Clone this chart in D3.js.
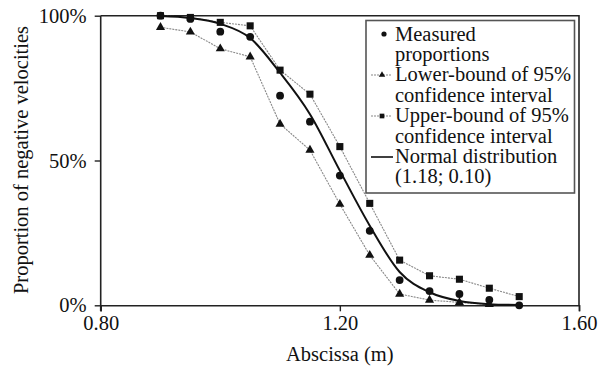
<!DOCTYPE html>
<html>
<head>
<meta charset="utf-8">
<script src="https://cdn.jsdelivr.net/npm/d3@7"></script>
<style>
  body { margin: 0; background: #fff; }
  svg { display: block; }
  text { font-family: "Liberation Serif", "Times New Roman", serif; fill: #111; }
</style>
</head>
<body>
<svg id="chart" width="601" height="369"></svg>
<script>
// abscissa values (m)
var xs = [0.90, 0.95, 1.00, 1.05, 1.10, 1.15, 1.20, 1.25, 1.30, 1.35, 1.40, 1.45, 1.50];
// proportions (%)
var measured = [100, 98.9, 94.5, 92.7, 72.4, 63.4, 44.8, 25.7, 8.7, 4.9, 3.9, 1.9, 0];
var lower = [96, 94.4, 88.6, 85.8, 62.6, 53.6, 34.9, 17.3, 3.9, 1.8, 1.0, 0.3];
var upper = [100, 99.4, 97.7, 96.5, 81.2, 72.9, 54.8, 35.2, 15.6, 10.2, 9.0, 5.9, 3.0];
var normalCurve = [99.9, 99.2, 97.2, 92.3, 80.3, 66, 46.5, 27.5, 11.5, 4.5, 1.5, 0.4, 0.1];
var xTicks = [0.80, 1.20, 1.60];
var yTicks = [0, 50, 100];
var legendLines = ["Measured", "proportions", "Lower-bound of 95%", "confidence interval",
  "Upper-bound of 95%", "confidence interval", "Normal distribution", "(1.18; 0.10)"];

var svg = d3.select("#chart");
var x = d3.scaleLinear().domain([0.80, 1.60]).range([100.7, 579]);
var y = d3.scaleLinear().domain([0, 100]).range([305.3, 15.7]);

function pts(vals) {
  return vals.map(function (v, i) { return [xs[i], v]; });
}

// frame (top + right)
svg.append("path")
  .attr("d", "M" + x(0.80) + "," + y(100) + "H" + x(1.60) + "V" + y(0))
  .attr("fill", "none").attr("stroke", "#222").attr("stroke-width", 1.6);

// axes
var xAxis = svg.append("g")
  .attr("transform", "translate(0," + y(0) + ")")
  .call(d3.axisBottom(x).tickValues(xTicks).tickFormat(d3.format(".2f")).tickSize(6).tickPadding(4));
var yAxis = svg.append("g")
  .attr("transform", "translate(" + x(0.80) + ",0)")
  .call(d3.axisLeft(y).tickValues(yTicks).tickFormat(function (d) { return d + "%"; }).tickSize(6).tickPadding(8));
[xAxis, yAxis].forEach(function (g) {
  g.attr("font-family", null);
  g.select(".domain").attr("stroke", "#222").attr("stroke-width", 1.6);
  g.selectAll(".tick line").attr("stroke", "#222").attr("stroke-width", 1.4);
  g.selectAll("text").attr("font-size", 20.5).attr("fill", "#111");
});
yAxis.selectAll(".domain").attr("d", "M0," + y(100) + "V" + (y(0) + 6));

svg.append("text").attr("x", x(1.20)).attr("y", 361).attr("text-anchor", "middle")
  .attr("font-size", 20.5).text("Abscissa (m)");
svg.append("text").attr("transform", "translate(28,160) rotate(-90)").attr("text-anchor", "middle")
  .attr("font-size", 20.5).text("Proportion of negative velocities");

var line = d3.line().x(function (d) { return x(d[0]); }).y(function (d) { return y(d[1]); });
var smooth = d3.line().curve(d3.curveMonotoneX).x(function (d) { return x(d[0]); }).y(function (d) { return y(d[1]); });

var plot = svg.append("g");
[lower, upper].forEach(function (s) {
  plot.append("path").attr("d", line(pts(s)))
    .attr("fill", "none").attr("stroke", "#888").attr("stroke-width", 1.1).attr("stroke-dasharray", "2,1");
});
plot.append("path").attr("d", smooth(pts(normalCurve)))
  .attr("fill", "none").attr("stroke", "#111").attr("stroke-width", 2);

var tri = d3.symbol().type(d3.symbolTriangle).size(36);
var sq = d3.symbol().type(d3.symbolSquare).size(50);
plot.selectAll(".tri").data(pts(lower)).enter().append("path")
  .attr("d", tri).attr("fill", "#111")
  .attr("transform", function (d) { return "translate(" + x(d[0]) + "," + y(d[1]) + ")"; });
plot.selectAll(".sq").data(pts(upper)).enter().append("path")
  .attr("d", sq).attr("fill", "#111")
  .attr("transform", function (d) { return "translate(" + x(d[0]) + "," + y(d[1]) + ")"; });
plot.selectAll(".dot").data(pts(measured)).enter().append("circle")
  .attr("r", 3.9).attr("fill", "#111")
  .attr("cx", function (d) { return x(d[0]); }).attr("cy", function (d) { return y(d[1]); });

// legend
var lg = svg.append("g");
lg.append("rect").attr("x", 366).attr("y", 20.5).attr("width", 208.5).attr("height", 172.5)
  .attr("fill", "#fff").attr("stroke", "#555").attr("stroke-width", 1.6);
lg.selectAll(".lt").data(legendLines).enter().append("text")
  .attr("x", 395).attr("y", function (d, i) { return 40.5 + i * 20.4; })
  .attr("font-size", 20.5).text(function (d) { return d; });
var sy = [34, 75, 116, 157];
lg.append("circle").attr("cx", 384).attr("cy", sy[0]).attr("r", 2.6).attr("fill", "#111");
[1, 2].forEach(function (k) {
  lg.append("line").attr("x1", 371).attr("x2", 392).attr("y1", sy[k]).attr("y2", sy[k])
    .attr("stroke", "#888").attr("stroke-width", 1.1).attr("stroke-dasharray", "2,1");
  lg.append("path").attr("d", (k == 1 ? d3.symbol().type(d3.symbolTriangle).size(18) : d3.symbol().type(d3.symbolSquare).size(22)))
    .attr("transform", "translate(382," + sy[k] + ")").attr("fill", "#111");
});
lg.append("line").attr("x1", 371).attr("x2", 393).attr("y1", sy[3]).attr("y2", sy[3])
  .attr("stroke", "#111").attr("stroke-width", 1.6);
</script>
</body>
</html>
